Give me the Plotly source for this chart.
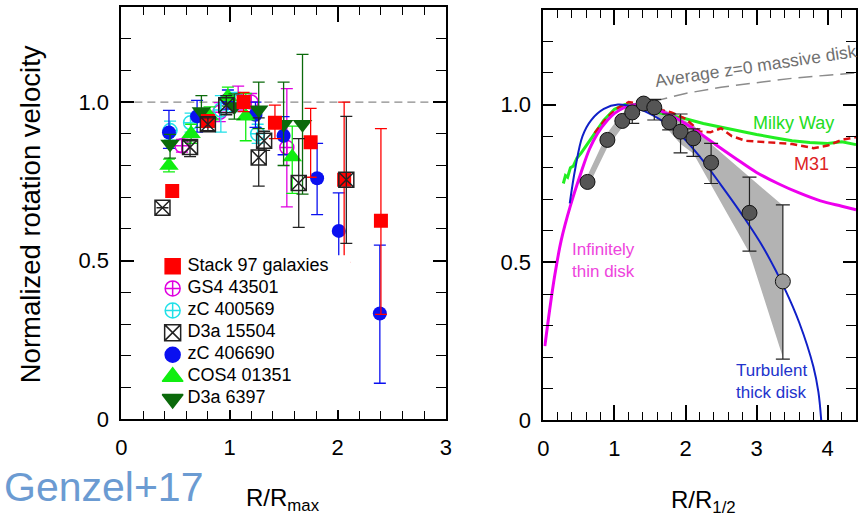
import plotly.graph_objects as go

FONT = "Liberation Sans, Arial, Helvetica, sans-serif"

# ---------------- Left panel data (R/Rmax, normalized velocity) ----------------
stack_x = [0.47, 0.80, 1.13, 1.42, 1.75, 2.06, 2.40]
stack_y = [0.72, 0.94, 1.00, 0.935, 0.873, 0.755, 0.626]
stack_ep = [0.0, 0.02, 0.03, 0.055, 0.107, 0.245, 0.29]
stack_em = [0.0, 0.02, 0.03, 0.05, 0.11, 0.26, 0.295]

gs4_x = [0.56, 0.91, 1.08, 1.20, 1.53]
gs4_y = [0.862, 0.968, 1.005, 1.0, 0.857]
gs4_ep = [0.02, 0.03, 0.045, 0.027, 0.185]
gs4_em = [0.02, 0.03, 0.03, 0.03, 0.187]

zc569_x = [0.45, 0.64, 0.92, 1.05, 1.26]
zc569_y = [0.91, 0.935, 0.975, 1.0, 0.90]
zc569_ep = [0.03, 0.03, 0.045, 0.03, 0.03]
zc569_em = [0.03, 0.03, 0.07, 0.03, 0.03]

d3a15_x = [0.38, 0.635, 0.80, 0.97, 1.27, 1.32, 1.64, 2.08]
d3a15_y = [0.667, 0.858, 0.93, 0.99, 0.825, 0.878, 0.745, 0.755]
d3a15_ep = [0.0, 0.02, 0.02, 0.03, 0.125, 0.03, 0.14, 0.20]
d3a15_em = [0.0, 0.03, 0.02, 0.03, 0.09, 0.03, 0.14, 0.20]

zc690_x = [0.44, 0.70, 0.985, 1.24, 1.50, 1.81, 2.01, 2.39]
zc690_y = [0.904, 0.955, 1.008, 0.96, 0.894, 0.76, 0.594, 0.334]
zc690_ep = [0.07, 0.05, 0.03, 0.04, 0.06, 0.11, 0.12, 0.215]
zc690_em = [0.05, 0.05, 0.03, 0.04, 0.06, 0.115, 0.125, 0.22]

cos4_x = [0.44, 0.645, 0.815, 0.985, 1.15, 1.58]
cos4_y = [0.80, 0.90, 0.955, 1.017, 0.955, 0.827]
cos4_ep = [0.02, 0.03, 0.03, 0.03, 0.072, 0.097]
cos4_em = [0.02, 0.03, 0.03, 0.03, 0.077, 0.115]

d3a63_x = [0.45, 0.74, 1.045, 1.27, 1.50, 1.675]
d3a63_y = [0.868, 0.97, 0.986, 0.976, 0.93, 0.93]
d3a63_ep = [0.03, 0.05, 0.04, 0.087, 0.133, 0.22]
d3a63_em = [0.045, 0.05, 0.04, 0.06, 0.13, 0.22]

left_ref_x = [0, 3]
left_ref_y = [1.0, 1.0]

# legend entries (drawn as a key inside the left panel)
legend_names = ["Stack 97 galaxies", "GS4 43501", "zC 400569", "D3a 15504",
                "zC 406690", "COS4 01351", "D3a 6397"]
legend_symbols = ["square", "circle-cross-open", "circle-cross-open", "square-x-open",
                  "circle", "triangle-up", "triangle-down"]
legend_colors = ["#ff0000", "#e000e0", "#20e0e8", "#222222", "#0a10f0", "#10ee10", "#0b6a0b"]
legend_sizes = [15, 15, 15, 16, 15, 18, 18]

# ---------------- Right panel data (R/R1/2) ----------------
pts_x = [0.62, 0.90, 1.11, 1.25, 1.41, 1.56, 1.77, 1.93, 2.11, 2.36, 2.90, 3.37]
pts_y = [0.755, 0.888, 0.948, 0.975, 1.003, 0.991, 0.944, 0.914, 0.893, 0.816, 0.657, 0.44]
pts_ep = [0.0, 0.0, 0.0, 0.0, 0.01, 0.025, 0.026, 0.056, 0.03, 0.061, 0.113, 0.242]
pts_em = [0.0, 0.0, 0.0, 0.035, 0.01, 0.04, 0.024, 0.067, 0.057, 0.066, 0.121, 0.246]

band_x = [0.62, 0.90, 1.10, 1.25, 1.41, 1.56, 1.77, 1.93, 2.11, 2.36, 2.90, 3.37]
band_hi = [0.775, 0.91, 0.97, 0.995, 1.012, 1.005, 0.975, 0.955, 0.935, 0.875, 0.77, 0.68]
band_lo = [0.735, 0.865, 0.925, 0.955, 0.99, 0.97, 0.915, 0.875, 0.845, 0.745, 0.53, 0.20]

avg_x = [1.55, 2.0, 2.5, 3.0, 3.5, 4.0, 4.4]
avg_y = [1.01, 1.035, 1.055, 1.07, 1.083, 1.093, 1.10]

mw_x = [0.28, 0.31, 0.34, 0.38, 0.42, 0.47, 0.53, 0.62, 0.72, 0.85, 1.0, 1.15, 1.3, 1.45,
        1.6, 1.8, 2.0, 2.25, 2.5, 2.75, 3.0, 3.25, 3.5, 3.75, 4.0, 4.2, 4.4]
mw_y = [0.75, 0.775, 0.77, 0.80, 0.805, 0.83, 0.846, 0.875, 0.908, 0.95, 0.985, 1.0, 1.0, 0.99,
        0.975, 0.965, 0.955, 0.94, 0.928, 0.918, 0.905, 0.895, 0.885, 0.88, 0.877, 0.882, 0.873]

m31_x = [0.72, 0.9, 1.05, 1.2, 1.4, 1.6, 1.8, 2.0, 2.2, 2.35, 2.5, 2.65, 2.85, 3.2, 3.5, 3.8,
         4.0, 4.2, 4.4]
m31_y = [0.91, 0.96, 0.99, 1.008, 1.0, 0.985, 0.975, 0.955, 0.915, 0.912, 0.925, 0.90, 0.885,
         0.88, 0.875, 0.862, 0.87, 0.888, 0.897]

thin_x = [0.02, 0.1, 0.16, 0.25, 0.38, 0.53, 0.65, 0.76, 0.9, 1.0, 1.15, 1.3, 1.5, 1.8, 2.1,
          2.4, 2.7, 3.0, 3.3, 3.6, 3.9, 4.2, 4.4]
thin_y = [0.235, 0.37, 0.46, 0.57, 0.68, 0.785, 0.86, 0.908, 0.95, 0.972, 0.992, 1.0, 0.99,
          0.965, 0.925, 0.877, 0.83, 0.785, 0.75, 0.72, 0.695, 0.678, 0.667]

thick_x = [0.37, 0.45, 0.55, 0.67, 0.85, 1.05, 1.3, 1.55, 1.9, 2.2, 2.5, 2.8, 3.1, 3.4, 3.6,
           3.8, 3.87, 3.91]
thick_y = [0.687, 0.80, 0.90, 0.95, 0.986, 1.0, 0.99, 0.965, 0.91, 0.835, 0.745, 0.65, 0.545,
           0.415, 0.31, 0.17, 0.09, 0.0]

left_xticks = [0, 1, 2, 3]
right_xticks = [0, 1, 2, 3, 4]
yticks = [0, 0.5, 1.0]
yticklabels = ["0", "0.5", "1.0"]

fig = go.Figure()


def series(name, x, y, ep, em, color, symbol, size, filled=True):
    marker = dict(symbol=symbol, size=size, color=color, opacity=1)
    if filled:
        marker["line"] = dict(width=0)
    else:
        marker["line"] = dict(width=1.5, color=color)
    fig.add_trace(go.Scatter(
        x=x, y=y, mode="markers", name=name, marker=marker, showlegend=False,
        error_y=dict(type="data", array=ep, arrayminus=em, color=color,
                     thickness=1.3, width=6),
        xaxis="x", yaxis="y"))


fig.add_trace(go.Scatter(x=left_ref_x, y=left_ref_y, mode="lines", showlegend=False,
                         line=dict(color="#8a8a8a", width=1.3, dash="8px,5px"),
                         xaxis="x", yaxis="y"))

series("GS4 43501", gs4_x, gs4_y, gs4_ep, gs4_em, "#e000e0", "circle-cross-open", 14, False)
series("zC 400569", zc569_x, zc569_y, zc569_ep, zc569_em, "#20e0e8", "circle-cross-open", 14, False)
series("zC 406690", zc690_x, zc690_y, zc690_ep, zc690_em, "#0a10f0", "circle", 14)
series("COS4 01351", cos4_x, cos4_y, cos4_ep, cos4_em, "#10ee10", "triangle-up", 17)
series("D3a 6397", d3a63_x, d3a63_y, d3a63_ep, d3a63_em, "#0b6a0b", "triangle-down", 17)
series("Stack 97 galaxies", stack_x, stack_y, stack_ep, stack_em, "#ff0000", "square", 14)
series("D3a 15504", d3a15_x, d3a15_y, d3a15_ep, d3a15_em, "#222222", "square-x-open", 15, False)

# key for the left panel (own hidden axes: one row per entry)
rows = list(range(len(legend_names)))
fig.add_trace(go.Scatter(x=[0] * len(rows), y=rows, mode="markers", showlegend=False,
                         hoverinfo="skip", cliponaxis=False,
                         marker=dict(symbol=legend_symbols, color=legend_colors, size=legend_sizes,
                                     opacity=1, line=dict(color=legend_colors, width=1.5)),
                         xaxis="x3", yaxis="y3"))
fig.add_trace(go.Scatter(x=[0.075] * len(rows), y=rows, mode="text", text=legend_names,
                         textposition="middle right", showlegend=False, hoverinfo="skip",
                         cliponaxis=False,
                         textfont=dict(size=18, color="black", family=FONT),
                         xaxis="x3", yaxis="y3"))

# ---------------- Right panel traces ----------------
fig.add_trace(go.Scatter(x=band_x + band_x[::-1], y=band_hi + band_lo[::-1], fill="toself",
                         mode="lines", line=dict(width=0), fillcolor="#b3b3b3",
                         showlegend=False, xaxis="x2", yaxis="y2"))
fig.add_trace(go.Scatter(x=avg_x, y=avg_y, mode="lines", showlegend=False,
                         line=dict(color="#8c8c8c", width=1.5, dash="14px,7px"),
                         xaxis="x2", yaxis="y2"))
fig.add_trace(go.Scatter(x=mw_x, y=mw_y, mode="lines", showlegend=False,
                         line=dict(color="#22ee22", width=3),
                         xaxis="x2", yaxis="y2"))
fig.add_trace(go.Scatter(x=m31_x, y=m31_y, mode="lines", showlegend=False,
                         line=dict(color="#dd1111", width=2.5, dash="7px,4px"),
                         xaxis="x2", yaxis="y2"))
fig.add_trace(go.Scatter(x=thin_x, y=thin_y, mode="lines", showlegend=False,
                         line=dict(color="#ee00ee", width=3, shape="spline"),
                         xaxis="x2", yaxis="y2"))
fig.add_trace(go.Scatter(x=thick_x, y=thick_y, mode="lines", showlegend=False,
                         line=dict(color="#1020c8", width=2, shape="spline"),
                         xaxis="x2", yaxis="y2"))
pt_colors = ["#555555"] * (len(pts_x) - 1) + ["#9a9a9a"]
fig.add_trace(go.Scatter(x=pts_x, y=pts_y, mode="markers", showlegend=False,
                         marker=dict(size=15, color=pt_colors, opacity=1,
                                     line=dict(color="#111111", width=1)),
                         error_y=dict(type="data", array=pts_ep, arrayminus=pts_em,
                                      color="#222222", thickness=1.2, width=7),
                         xaxis="x2", yaxis="y2"))


def axis(rng, domain, anchor, tickvals, ticktext, mdtick, major_len, minor_len, standoff):
    return dict(range=rng, domain=domain, anchor=anchor, showline=True, linecolor="black",
                linewidth=2, mirror="ticks", ticks="inside", ticklen=major_len, tickwidth=1.5,
                tickcolor="black", tickmode="array", tickvals=tickvals, ticktext=ticktext,
                minor=dict(tickmode="linear", tick0=0, dtick=mdtick, ticks="inside",
                           ticklen=minor_len, tickwidth=1.3, tickcolor="black", showgrid=False),
                showgrid=False, zeroline=False, ticklabelstandoff=standoff,
                tickfont=dict(size=22, color="black", family=FONT))


W, H = 865, 529
ROW_H = 22.67
key_top = 273 - ROW_H / 2
key_bot = 273 + ROW_H * (len(legend_names) - 1) + ROW_H / 2
fig.update_layout(
    width=W, height=H, margin=dict(l=0, r=0, t=0, b=0),
    paper_bgcolor="white", plot_bgcolor="white",
    font=dict(family=FONT, color="black"),
    xaxis=axis([0, 3], [117 / W, 446 / W], "y", left_xticks, [str(v) for v in left_xticks],
               0.2, 15, 8, 7),
    yaxis=axis([0, 1.3], [1 - 430 / H, 1 - 7 / H], "x", yticks, yticklabels, 0.1, 13, 10, 6),
    xaxis2=axis([0, 4.4], [545 / W, 862 / W], "y2", right_xticks, [str(v) for v in right_xticks],
                0.2, 15, 8, 7),
    yaxis2=axis([0, 1.3], [1 - 431 / H, 1 - 10 / H], "x2", yticks, yticklabels, 0.1, 13, 10, 6),
    xaxis3=dict(domain=[149 / W, 349 / W], range=[-0.1, 0.9], visible=False, fixedrange=True,
                anchor="y3"),
    yaxis3=dict(domain=[1 - key_bot / H, 1 - key_top / H],
                range=[len(legend_names) - 0.5, -0.5], visible=False, fixedrange=True,
                anchor="x3"),
    showlegend=False,
)

ann = [
    dict(text="Normalized rotation velocity", x=25 / W, y=1 - 220 / H, xref="paper", yref="paper",
         xanchor="center", yanchor="middle",
         textangle=-90, showarrow=False, font=dict(size=27.5, color="black")),
    dict(text="R/R<sub>max</sub>", x=281 / W, y=1 - 512 / H, xref="paper", yref="paper",
         xanchor="center", yanchor="middle",
         showarrow=False, font=dict(size=24, color="black")),
    dict(text="R/R<sub>1/2</sub>", x=707 / W, y=1 - 514 / H, xref="paper", yref="paper",
         xanchor="center", yanchor="middle",
         showarrow=False, font=dict(size=24, color="black")),
    dict(text="Genzel+17", x=-4 / W, y=1 - 499 / H, xref="paper", yref="paper", xanchor="left",
         yanchor="middle", showarrow=False, font=dict(size=41, color="#6b9bd2")),
    dict(text="Average z=0 massive disk", x=2.99, y=1.121, xref="x2", yref="y2",
         xanchor="center", yanchor="middle",
         textangle=-8.5, showarrow=False, font=dict(size=17.5, color="#707070")),
    dict(text="Milky Way", x=3.52, y=0.942, xref="x2", yref="y2", showarrow=False,
         xanchor="center", yanchor="middle", font=dict(size=18, color="#22dd22")),
    dict(text="M31", x=3.78, y=0.812, xref="x2", yref="y2", showarrow=False,
         xanchor="center", yanchor="middle", font=dict(size=18, color="#dd2222")),
    dict(text="Infinitely<br>thin disk", x=0.375, y=0.506, xref="x2", yref="y2", xanchor="left",
         yanchor="middle", align="left", showarrow=False, font=dict(size=17, color="#ee44dd")),
    dict(text="Turbulent<br>thick disk", x=2.68, y=0.124, xref="x2", yref="y2", xanchor="left",
         yanchor="middle", align="left", showarrow=False, font=dict(size=17, color="#2233cc")),
]
fig.update_layout(annotations=ann)

fig.write_html("out.html")
